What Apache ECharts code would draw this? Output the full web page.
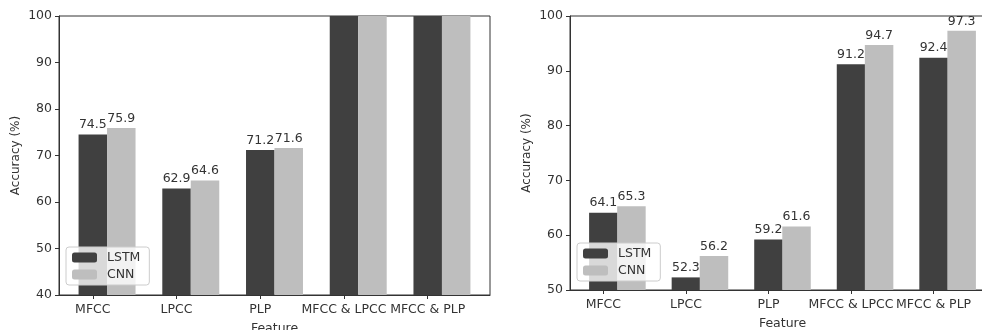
<!DOCTYPE html>
<html>
<head>
<meta charset="utf-8">
<script src="https://cdn.jsdelivr.net/npm/echarts@6/dist/echarts.min.js"></script>
<style>
  html, body { margin: 0; padding: 0; background: #fff; }
  #chart { width: 982px; height: 330px; }
</style>
</head>
<body>
<div id="chart"></div>
<script>
const features = ['MFCC', 'LPCC', 'PLP', 'MFCC & LPCC', 'MFCC & PLP']
const seriesNames = ['LSTM', 'CNN']

// left panel: the two combined-feature bars run past the top of the axis (clipped at 100)
const leftLstm = [74.5, 62.9, 71.2, 100, 100]
const leftCnn = [75.9, 64.6, 71.6, 100, 100]
const leftTicks = [40, 100]

const rightLstm = [64.1, 52.3, 59.2, 91.2, 92.4]
const rightCnn = [65.3, 56.2, 61.6, 94.7, 97.3]
const rightTicks = [50, 100]

const BAR_W = 0.34 // bar width in x units, CNN sits one bar width to the right
const COLORS = ['#404040', '#bebebe']
const TEXT = '#333'
const FONT = 'DejaVu Sans'

const xMin = -BAR_W / 2 - 0.05 * (4 + 2 * BAR_W)
const xMax = 4 + 1.5 * BAR_W + 0.05 * (4 + 2 * BAR_W)
const xPos = features.map((f, i) => i)

function toPoints(values, shift) {
  return values.map((v, i) => [xPos[i] + shift, v])
}

function xAxisFor(gridIndex) {
  return {
    type: 'value',
    gridIndex,
    min: xMin,
    max: xMax,
    name: 'Feature',
    nameLocation: 'middle',
    nameGap: 27,
    nameTextStyle: { color: TEXT, fontSize: 12.5, fontFamily: FONT },
    axisLine: { show: true, onZero: false, lineStyle: { color: TEXT } },
    axisTick: { show: true, length: 4, customValues: xPos, lineStyle: { color: TEXT } },
    axisLabel: {
      customValues: xPos,
      margin: 8,
      color: TEXT,
      fontSize: 12.5,
      fontFamily: FONT,
      formatter: (v) => features[Math.round(v)],
    },
    splitLine: { show: false },
  }
}

function yAxisFor(gridIndex, ticks) {
  return {
    type: 'value',
    gridIndex,
    min: ticks[0],
    max: ticks[1],
    interval: 10,
    name: 'Accuracy (%)',
    nameLocation: 'middle',
    nameGap: 37,
    nameTextStyle: { color: TEXT, fontSize: 12, fontFamily: FONT },
    axisLine: { show: true, onZero: false, lineStyle: { color: TEXT } },
    axisTick: { show: true, length: 4, lineStyle: { color: TEXT } },
    axisLabel: { margin: 7, color: TEXT, fontSize: 12.5, fontFamily: FONT },
    splitLine: { show: false },
  }
}

function barSeries(name, values, idx, shift, cap, color) {
  return {
    name,
    type: 'bar',
    xAxisIndex: idx,
    yAxisIndex: idx,
    data: toPoints(values, shift),
    barWidth: 28.5,
    barGap: '-100%',
    clip: true,
    itemStyle: { color },
    label: {
      show: true,
      position: 'top',
      distance: 3,
      color: TEXT,
      fontSize: 12.5,
      fontFamily: FONT,
      formatter: (p) => (p.value[1] >= cap ? '' : p.value[1].toFixed(1)),
    },
  }
}

function legendFor(left, top) {
  return {
    orient: 'vertical',
    left,
    top,
    data: seriesNames,
    itemWidth: 25,
    itemHeight: 10,
    itemGap: 4,
    padding: [4, 9, 4, 6],
    backgroundColor: 'rgba(255,255,255,0.8)',
    borderColor: '#cccccc',
    borderWidth: 1,
    borderRadius: 3,
    selectedMode: false,
    textStyle: { color: TEXT, fontSize: 12.5, fontFamily: FONT, padding: [0, 0, 0, 5] },
  }
}

const chart = echarts.init(document.getElementById('chart'))
chart.setOption({
  animation: false,
  color: COLORS,
  grid: [
    { left: 59, top: 16, width: 431, height: 279, outerBoundsMode: 'none', show: true, borderColor: TEXT, borderWidth: 1 },
    { left: 570, top: 16, width: 425, height: 274, outerBoundsMode: 'none', show: true, borderColor: TEXT, borderWidth: 1 },
  ],
  legend: [legendFor(66, 247), legendFor(577, 243)],
  xAxis: [xAxisFor(0), xAxisFor(1)],
  yAxis: [yAxisFor(0, leftTicks), yAxisFor(1, rightTicks)],
  series: [
    barSeries(seriesNames[0], leftLstm, 0, 0, leftTicks[1], COLORS[0]),
    barSeries(seriesNames[1], leftCnn, 0, BAR_W, leftTicks[1], COLORS[1]),
    barSeries(seriesNames[0], rightLstm, 1, 0, rightTicks[1], COLORS[0]),
    barSeries(seriesNames[1], rightCnn, 1, BAR_W, rightTicks[1], COLORS[1]),
  ],
})
</script>
</body>
</html>
